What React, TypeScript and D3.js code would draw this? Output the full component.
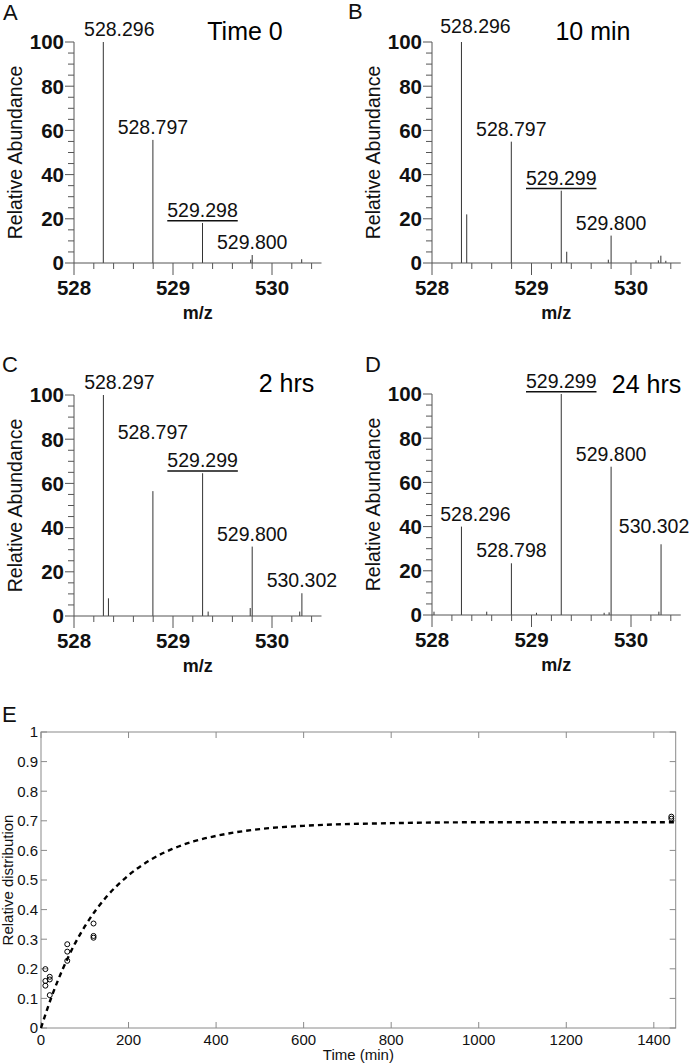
import React from 'react';
import * as d3 from 'd3';

// ---------------- DATA ----------------
const panelLetters = ['A', 'B', 'C', 'D'];
const panelTitles = ['Time 0', '10 min', '2 hrs', '24 hrs'];

const mzMin = 528;
const mzMax = 530.5;
const mzLabelTicks = [528, 529, 530];
const abundanceLabelTicks = [0, 20, 40, 60, 80, 100];

// [m/z, relative abundance]
const peaksA: [number, number][] = [
  [528.296, 100], [528.797, 55.7], [529.298, 18.1], [529.785, 1.5], [529.8, 3.6], [530.3, 1.7],
];
const peaksB: [number, number][] = [
  [528.296, 100], [528.349, 22], [528.797, 54.9], [529.299, 32.7], [529.354, 5.1],
  [529.772, 1.5], [529.8, 12.4], [530.05, 1.2], [530.275, 1.2], [530.3, 3.3], [530.35, 1.0],
];
const peaksC: [number, number][] = [
  [528.297, 100], [528.348, 8], [528.797, 56.5], [529.299, 64.6], [529.355, 2],
  [529.78, 3.6], [529.8, 31.4], [530.28, 2], [530.302, 10.3],
];
const peaksD: [number, number][] = [
  [528.02, 1.5], [528.296, 40], [528.55, 1.5], [528.798, 23.4], [529.05, 1],
  [529.299, 100], [529.73, 1], [529.78, 1.2], [529.8, 67.1], [530.28, 1.5], [530.302, 32],
];

const labelsA = [
  { text: '528.296', mz: 528.296, underline: false },
  { text: '528.797', mz: 528.797, underline: false },
  { text: '529.298', mz: 529.298, underline: true },
  { text: '529.800', mz: 529.8, underline: false },
];
const labelsB = [
  { text: '528.296', mz: 528.296, underline: false },
  { text: '528.797', mz: 528.797, underline: false },
  { text: '529.299', mz: 529.299, underline: true },
  { text: '529.800', mz: 529.8, underline: false },
];
const labelsC = [
  { text: '528.297', mz: 528.297, underline: false },
  { text: '528.797', mz: 528.797, underline: false },
  { text: '529.299', mz: 529.299, underline: true },
  { text: '529.800', mz: 529.8, underline: false },
  { text: '530.302', mz: 530.302, underline: false },
];
const labelsD = [
  { text: '528.296', mz: 528.296, underline: false },
  { text: '528.798', mz: 528.798, underline: false },
  { text: '529.299', mz: 529.299, underline: true },
  { text: '529.800', mz: 529.8, underline: false },
  { text: '530.302', mz: 530.302, underline: false },
];

// Panel E
const timeTicks = [0, 200, 400, 600, 800, 1000, 1200, 1400];
const distTicks = [0, 0.1, 0.2, 0.3, 0.4, 0.5, 0.6, 0.7, 0.8, 0.9, 1];
const obsTime = [10, 10, 10, 20, 20, 20, 60, 60, 60, 120, 120, 120, 1440, 1440];
const obsDist = [0.199, 0.159, 0.143, 0.173, 0.164, 0.111, 0.283, 0.258, 0.227, 0.353, 0.311, 0.305, 0.714, 0.707];
const fitTime = [0, 25, 50, 75, 100, 125, 150, 200, 250, 300, 350, 400, 500, 600, 800, 1000, 1200, 1450];
const fitDist = [0, 0.109, 0.2, 0.278, 0.343, 0.398, 0.444, 0.516, 0.568, 0.605, 0.631, 0.649, 0.672, 0.683, 0.692, 0.695, 0.695, 0.695];

// ---------------- LAYOUT ----------------
const FONT = 'Liberation Sans, Arial, Helvetica, sans-serif';
const panels = [
  { peaks: peaksA, labels: labelsA, x0: 74, x1: 321.5, yTop: 42, yBot: 263, letterX: 3, letterY: 20, titleCx: 245, titleY: 40,
    nudge: { '528.296': [16, 0] } as Record<string, number[]> },
  { peaks: peaksB, labels: labelsB, x0: 432, x1: 680.75, yTop: 42, yBot: 263, letterX: 348, letterY: 19, titleCx: 593, titleY: 40,
    nudge: { '528.296': [14, -3] } as Record<string, number[]> },
  { peaks: peaksC, labels: labelsC, x0: 74, x1: 321.5, yTop: 395, yBot: 616, letterX: 2, letterY: 372, titleCx: 286.5, titleY: 392,
    nudge: { '528.297': [16, 0], '528.797': [0, -45.7] } as Record<string, number[]> },
  { peaks: peaksD, labels: labelsD, x0: 432, x1: 680.75, yTop: 394, yBot: 615, letterX: 365, letterY: 372, titleCx: 646.5, titleY: 393,
    nudge: { '528.296': [14, 0], '530.302': [-7, -5] } as Record<string, number[]> },
];

const AXIS = '#555';
const PEAK = '#333';
const LABEL_FS = 19.5;

function textWidth(t: string, fs: number) {
  let w = 0;
  for (const c of t) w += c === '.' ? 0.278 : 0.556;
  return w * fs;
}

function Spectrum({ p, i }: { p: typeof panels[number]; i: number }) {
  const x = d3.scaleLinear().domain([mzMin, mzMax]).range([p.x0, p.x1]);
  const y = d3.scaleLinear().domain([0, 100]).range([p.yBot, p.yTop]);
  const yMinor = d3.range(0, 101, 5);
  const xMinor = d3.range(0, 13).map((k) => mzMin + k * 0.2);
  const findPeak = (mz: number) => p.peaks.reduce((a, b) => (Math.abs(b[0] - mz) < Math.abs(a[0] - mz) ? b : a));
  return (
    <g>
      <text x={p.letterX} y={p.letterY} fontSize={22} fontFamily={FONT} fill="#111">{panelLetters[i]}</text>
      <text x={p.titleCx} y={p.titleY} fontSize={25} fontFamily={FONT} textAnchor="middle" fill="#000">{panelTitles[i]}</text>
      {/* peaks */}
      {p.peaks.map(([mz, ab], k) => (
        <line key={k} x1={x(mz)} x2={x(mz)} y1={y(0)} y2={y(ab)} stroke={PEAK} strokeWidth={1} />
      ))}
      {/* axes */}
      <line x1={p.x0} x2={p.x0} y1={y(0)} y2={y(100)} stroke={AXIS} strokeWidth={1} />
      <line x1={p.x0} x2={p.x1} y1={y(0)} y2={y(0)} stroke={AXIS} strokeWidth={1} />
      {yMinor.map((v) => (
        <line key={'yt' + v} x1={p.x0} x2={p.x0 - (v % 20 === 0 ? 9 : 6)} y1={y(v)} y2={y(v)} stroke={AXIS} strokeWidth={1} />
      ))}
      {abundanceLabelTicks.map((v) => (
        <text key={'yl' + v} x={p.x0 - 10} y={y(v)} dy="0.36em" textAnchor="end" fontSize={20.5} fontWeight="bold" fontFamily={FONT} fill="#111">{v}</text>
      ))}
      {xMinor.map((v, k) => (
        <line key={'xt' + k} x1={x(v)} x2={x(v)} y1={y(0)} y2={y(0) + (k % 5 === 0 ? 12 : 6)} stroke={AXIS} strokeWidth={1} />
      ))}
      {mzLabelTicks.map((v) => (
        <text key={'xl' + v} x={x(v)} y={y(0) + 32} textAnchor="middle" fontSize={20.5} fontWeight="bold" fontFamily={FONT} fill="#111">{v}</text>
      ))}
      <text x={(p.x0 + p.x1) / 2} y={y(0) + 56} textAnchor="middle" fontSize={18} fontWeight="bold" fontFamily={FONT} fill="#111">m/z</text>
      <text transform={`translate(${p.x0 - 52},${(y(0) + y(100)) / 2}) rotate(-90)`} textAnchor="middle" fontSize={19.5} fontFamily={FONT} fill="#111">Relative Abundance</text>
      {/* peak labels */}
      {p.labels.map((l) => {
        const pk = findPeak(l.mz);
        const n = p.nudge[l.text] || [0, 0];
        const cx = x(pk[0]) + n[0];
        const by = y(pk[1]) - 6 + n[1];
        const w = textWidth(l.text, LABEL_FS);
        return (
          <g key={l.text}>
            <text x={cx} y={by} textAnchor="middle" fontSize={LABEL_FS} fontFamily={FONT} fill="#111">{l.text}</text>
            {l.underline && <line x1={cx - w / 2} x2={cx + w / 2} y1={by + 3.7} y2={by + 3.7} stroke="#111" strokeWidth={1.4} />}
          </g>
        );
      })}
    </g>
  );
}

function Kinetics() {
  const ex = d3.scaleLinear().domain([0, 1450]).range([41, 675.7]);
  const ey = d3.scaleLinear().domain([0, 1]).range([1028, 732]);
  const line = d3.line<number>().x((_, k) => ex(fitTime[k])).y((d) => ey(d)).curve(d3.curveMonotoneX);
  const box = '#8a8a8a';
  const [l, r] = ex.range();
  const [b, t] = ey.range();
  return (
    <g>
      <text x={2} y={722} fontSize={22} fontFamily={FONT} fill="#111">E</text>
      <rect x={l} y={t} width={r - l} height={b - t} fill="none" stroke={box} strokeWidth={1} />
      {timeTicks.map((v) => (
        <g key={'et' + v}>
          <line x1={ex(v)} x2={ex(v)} y1={b} y2={b - 6} stroke={box} />
          <line x1={ex(v)} x2={ex(v)} y1={t} y2={t + 6} stroke={box} />
          <text x={ex(v)} y={b + 17} textAnchor="middle" fontSize={15} fontFamily={FONT} fill="#111">{v}</text>
        </g>
      ))}
      {distTicks.map((v) => (
        <g key={'ed' + v}>
          <line x1={l} x2={l + 6} y1={ey(v)} y2={ey(v)} stroke={box} />
          <line x1={r} x2={r - 6} y1={ey(v)} y2={ey(v)} stroke={box} />
          <text x={l - 3} y={ey(v)} dy="0.36em" textAnchor="end" fontSize={15} fontFamily={FONT} fill="#111">{d3.format('~g')(v)}</text>
        </g>
      ))}
      <path d={line(fitDist) || ''} fill="none" stroke="#000" strokeWidth={2.4} strokeDasharray="5,4" />
      {obsTime.map((tt, k) => (
        <circle key={'o' + k} cx={ex(tt)} cy={ey(obsDist[k])} r={2.5} fill="none" stroke="#000" strokeWidth={1} />
      ))}
      <text x={(l + r) / 2} y={1060} textAnchor="middle" fontSize={15} fontFamily={FONT} fill="#111">Time (min)</text>
      <text transform={`translate(13,${(t + b) / 2}) rotate(-90)`} textAnchor="middle" fontSize={15} fontFamily={FONT} fill="#111">Relative distribution</text>
    </g>
  );
}

export default function App() {
  return (
    <svg width={693} height={1064} viewBox="0 0 693 1064" style={{ position: 'absolute', left: 0, top: 0, background: '#fff' }}>
      <rect width={693} height={1064} fill="#fff" />
      {panels.map((p, i) => (
        <Spectrum key={i} p={p} i={i} />
      ))}
      <Kinetics />
    </svg>
  );
}
